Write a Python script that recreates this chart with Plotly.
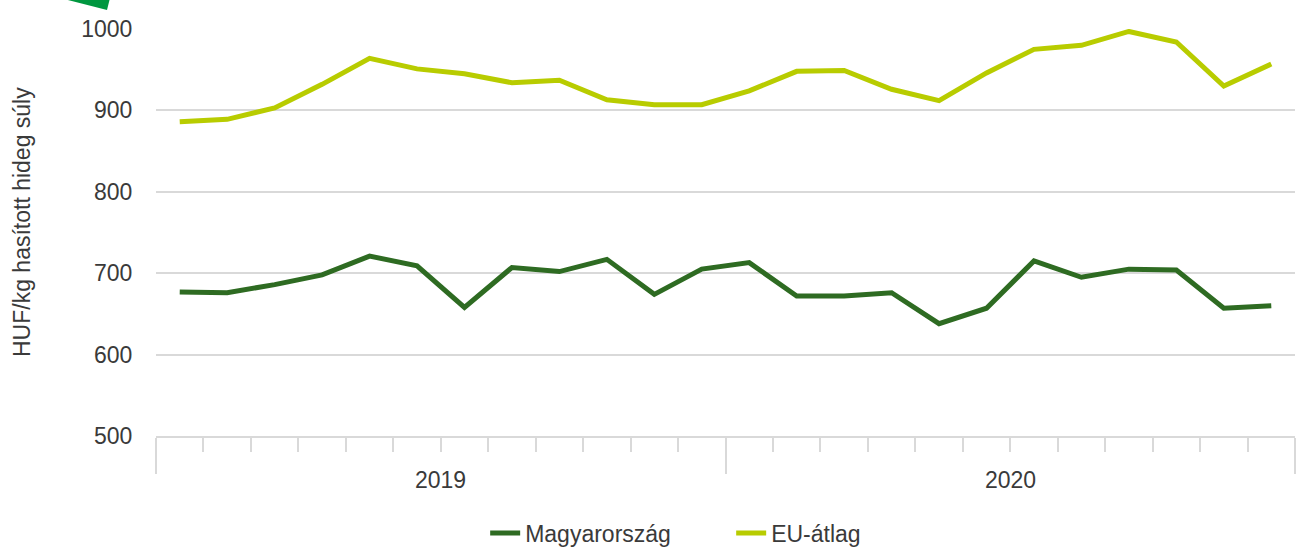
import plotly.graph_objects as go

# ---- data -------------------------------------------------------------
months = ["2019-01", "2019-02", "2019-03", "2019-04", "2019-05", "2019-06",
          "2019-07", "2019-08", "2019-09", "2019-10", "2019-11", "2019-12",
          "2020-01", "2020-02", "2020-03", "2020-04", "2020-05", "2020-06",
          "2020-07", "2020-08", "2020-09", "2020-10", "2020-11", "2020-12"]
years = ["2019", "2020"]
hungary = [677, 676, 686, 698, 721, 709, 658, 707, 702, 717, 674, 705,
           713, 672, 672, 676, 638, 657, 715, 695, 705, 704, 657, 660]
eu_avg = [886, 889, 903, 932, 964, 951, 945, 934, 937, 913, 907, 907,
          924, 948, 949, 926, 912, 946, 975, 980, 997, 984, 930, 957]
y_ticks = [500, 600, 700, 800, 900, 1000]
y_title = "HUF/kg hasított hideg súly"
series_names = ["Magyarország", "EU-átlag"]

# ---- styling ----------------------------------------------------------
DARK = "#2E6B22"
LIME = "#B8CC00"
GRID = "#D9D9D9"
TXT = "#3A3A3A"
FONT = "Liberation Sans, Arial, sans-serif"

x_idx = list(range(len(months)))
n_per_year = len(months) // len(years)
year_bounds = [i * n_per_year - 0.5 for i in range(len(years) + 1)]
year_mid = [i * n_per_year + (n_per_year - 1) / 2 for i in range(len(years))]

fig = go.Figure()
fig.add_trace(go.Scatter(x=x_idx, y=hungary, mode="lines", name=series_names[0],
                         line=dict(color=DARK, width=5), cliponaxis=False,
                         hovertext=months))
fig.add_trace(go.Scatter(x=x_idx, y=eu_avg, mode="lines", name=series_names[1],
                         line=dict(color=LIME, width=5), cliponaxis=False,
                         hovertext=months))

fig.update_layout(
    width=1296, height=548,
    margin=dict(l=156, r=1, t=29, b=112, autoexpand=False),
    plot_bgcolor="white", paper_bgcolor="white",
    font=dict(family=FONT, size=23, color=TXT),
    showlegend=True,
    legend=dict(orientation="h", x=0.289, xanchor="left", y=-0.2383, yanchor="middle",
                entrywidth=201, entrywidthmode="pixels",
                font=dict(family=FONT, size=23, color=TXT),
                bgcolor="rgba(0,0,0,0)"),
)

fig.update_xaxes(
    type="linear", range=[-0.5, len(months) - 0.5], automargin=False,
    showgrid=False, zeroline=False,
    showline=True, linecolor=GRID, linewidth=1.5,
    tickmode="array", tickvals=year_bounds, ticks="outside", ticklen=36,
    tickwidth=1.5, tickcolor=GRID, showticklabels=False,
    minor=dict(ticks="outside", tick0=-0.5, dtick=1, ticklen=14,
               tickwidth=1.5, tickcolor=GRID, showgrid=False),
)

fig.update_yaxes(
    range=[500, 1000], tickmode="array", tickvals=y_ticks, automargin=False,
    showgrid=True, gridcolor=GRID, gridwidth=1.5,
    zeroline=False, showline=False,
    ticks="outside", ticklen=18, tickcolor="rgba(0,0,0,0)",
    tickfont=dict(family=FONT, size=23, color=TXT),
)

for yr, xm in zip(years, year_mid):
    fig.add_annotation(x=xm, xref="x", y=0, yref="paper", yshift=-44,
                       text=yr, showarrow=False, yanchor="middle",
                       font=dict(family=FONT, size=23, color=TXT))

fig.add_annotation(x=0, xref="paper", xshift=-134, xanchor="center",
                   y=(436 - 222) / 407, yref="paper", yanchor="middle",
                   text=y_title, textangle=-90, showarrow=False,
                   font=dict(family=FONT, size=23, color=TXT))

# green corner decoration (partially visible arrow tip)
fig.add_shape(type="path", xref="paper", yref="paper",
              xsizemode="pixel", ysizemode="pixel", xanchor=0, yanchor=1,
              path="M -96,31 L -46,31 L -49,19 Z",
              fillcolor="#00973F", line=dict(width=0), layer="above")

fig.write_html("out.html",
               config={"displayModeBar": False},
               post_script="document.body.style.margin='0';"
                           "document.body.style.overflow='hidden';")
